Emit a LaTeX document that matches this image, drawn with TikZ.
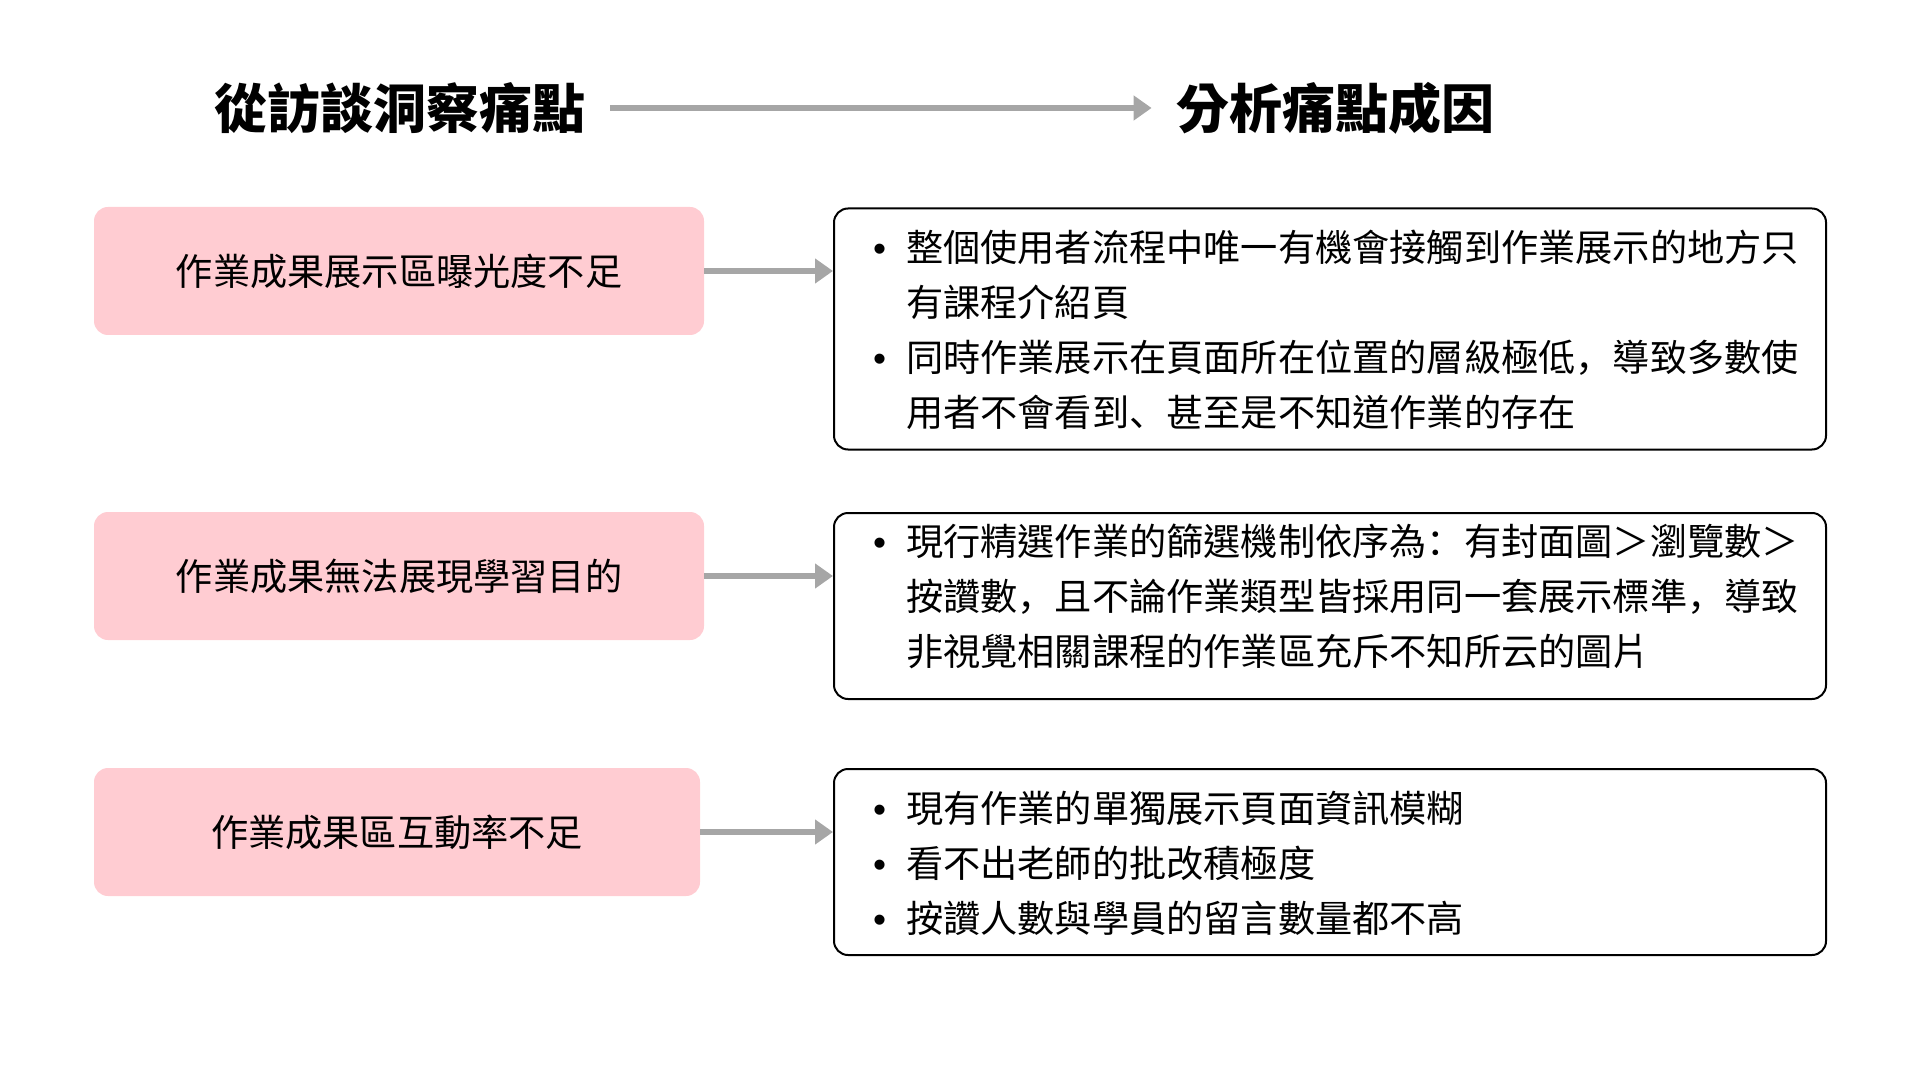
\documentclass[tikz,border=0pt]{standalone}
\usepackage{fontspec}
\setmainfont{Noto Sans CJK TC}
\newfontfamily\latinfont{Liberation Sans}
\newfontfamily\punfont{Noto Sans CJK SC}
\usepackage{xcolor}
\usetikzlibrary{arrows.meta}
\usetikzlibrary{positioning}
\definecolor{pinkfill}{HTML}{FFCCD2}
\definecolor{arrowgray}{HTML}{A6A6A6}
\newcommand{\bul}{\makebox[16.5pt][l]{\latinfont •}}
\newcommand{\pun}[1]{{\punfont #1}}
\tikzset{
  Titel/.style={inner sep=0pt, font=\fontsize{26.5pt}{30pt}\selectfont\bfseries}, % Überschriften
  PainBox/.style={fill=pinkfill, rounded corners=7pt, minimum width=305pt,
    minimum height=64pt, inner sep=0pt, font=\fontsize{18.6pt}{22pt}\selectfont},
  CauseBox/.style={draw, line width=1pt, rounded corners=7pt, text width=496pt,
    inner xsep=0pt, inner ysep=0pt, minimum height=#1, align=left,
    font=\fontsize{18.6pt}{27.5pt}\selectfont},
  Fluss/.style={draw=arrowgray, line width=3pt, ->} % graue Pfeile
}
\begin{document}
\begin{tikzpicture}[x=0.5pt, y=-0.5pt,
>={Triangle[length=9pt, width=12pt]} % Voreinstellung für Pfeilspitzen
]
\useasboundingbox (0,0) rectangle (1920,1080);

%Überschriften
\node[Titel] (T1) at (400,108) {從訪談洞察痛點};
\node[Titel] (T2) at (1335,108) {分析痛點成因};

%Schmerzpunkte
\node[PainBox] (P1) at (399,271) {作業成果展示區曝光度不足};
\node[PainBox] (P2) at (399,576) {作業成果無法展現學習目的};
\node[PainBox, minimum width=303pt] (P3) at (397,832) {作業成果區互動率不足};

%Ursachen
\node[CauseBox=120.5pt] (C1) at (1330,329) {%
\begin{tabular}{@{\hspace{19.5pt}}l@{}l@{}}\noalign{\vskip4pt}
\bul & 整個使用者流程中唯一有機會接觸到作業展示的地方只\\
 & 有課程介紹頁\\
\bul & 同時作業展示在頁面所在位置的層級極低\pun{，}導致多數使\\
 & 用者不會看到\pun{、}甚至是不知道作業的存在
\end{tabular}};
\node[CauseBox=93pt] (C2) at (1330,606) {%
\begin{tabular}{@{\hspace{19.5pt}}l@{}l@{}}
\bul & 現行精選作業的篩選機制依序為\pun{：}有封面圖＞瀏覽數＞\\
 & 按讚數\pun{，}且不論作業類型皆採用同一套展示標準\pun{，}導致\\
 & 非視覺相關課程的作業區充斥不知所云的圖片\\[7pt]
\end{tabular}};
\node[CauseBox=93pt] (C3) at (1330,862) {%
\begin{tabular}{@{\hspace{19.5pt}}l@{}l@{}}\noalign{\vskip4pt}
\bul & 現有作業的單獨展示頁面資訊模糊\\
\bul & 看不出老師的批改積極度\\
\bul & 按讚人數與學員的留言數量都不高
\end{tabular}};

%Pfeile
\draw[Fluss, shorten <=12pt, shorten >=12pt] (T1.east) -- (T2.west);
\draw[Fluss] (P1.east) -- (P1.east -| C1.west);
\draw[Fluss] (P2.east) -- (P2.east -| C2.west);
\draw[Fluss] (P3.east) -- (P3.east -| C3.west);

\end{tikzpicture}
\end{document}
